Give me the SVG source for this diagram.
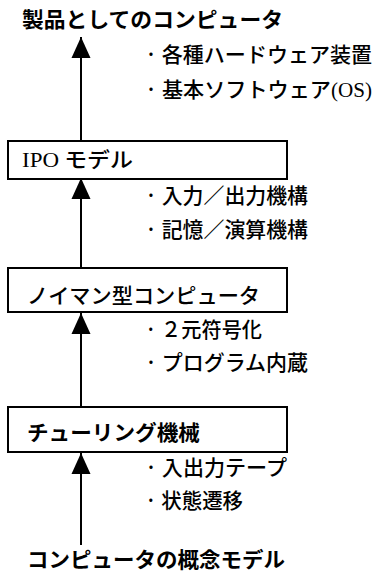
<svg xmlns="http://www.w3.org/2000/svg" width="376" height="579" viewBox="0 0 376 579">
<style>
.t{font-family:"Noto Sans CJK JP","Noto Sans",sans-serif;fill:#000;font-size:21px}
.b{font-weight:bold}
.m{font-weight:500}
.s{font-family:"Liberation Serif","Noto Sans CJK JP",serif}
.box{fill:#fff;stroke:#000;stroke-width:2}
.ln{stroke:#000;stroke-width:2;fill:none}
</style>
<defs>
<marker id="ah" markerUnits="userSpaceOnUse" markerWidth="22" markerHeight="22" viewBox="0 0 22 22" refX="21" refY="11" orient="auto">
<polygon points="0,1.5 21,11 0,20.5" fill="#000"/>
</marker>
</defs>
<rect width="376" height="579" fill="#fff"/>
<g id="connectors">
<line class="ln" x1="81" y1="141" x2="81" y2="37" marker-end="url(#ah)"/>
<line class="ln" x1="81" y1="268" x2="81" y2="178" marker-end="url(#ah)"/>
<line class="ln" x1="81" y1="407" x2="81" y2="313" marker-end="url(#ah)"/>
<line class="ln" x1="81" y1="545" x2="81" y2="453" marker-end="url(#ah)"/>
</g>
<g id="top">
<text class="t b" x="22" y="27" textLength="261" lengthAdjust="spacingAndGlyphs">製品としてのコンピュータ</text>
</g>
<g id="notes1">
<text class="t m" x="145" y="62" textLength="227" lengthAdjust="spacingAndGlyphs">· 各種ハードウェア装置</text>
<text class="t m" x="145" y="97" textLength="227" lengthAdjust="spacingAndGlyphs">· 基本ソフトウェア<tspan class="s">(OS)</tspan></text>
</g>
<g id="ipo">
<rect class="box" x="8" y="141" width="279" height="38"/>
<text class="t m" x="22" y="167" textLength="111" lengthAdjust="spacingAndGlyphs"><tspan class="s">IPO</tspan> モデル</text>
</g>
<g id="notes2">
<text class="t m" x="145" y="203" textLength="163" lengthAdjust="spacingAndGlyphs">· 入力／出力機構</text>
<text class="t m" x="145" y="237" textLength="163" lengthAdjust="spacingAndGlyphs">· 記憶／演算機構</text>
</g>
<g id="neumann">
<rect class="box" x="8" y="268" width="279" height="44"/>
<text class="t m" x="27" y="303" textLength="233" lengthAdjust="spacingAndGlyphs">ノイマン型コンピュータ</text>
</g>
<g id="notes3">
<text class="t m" x="145" y="337" textLength="117" lengthAdjust="spacingAndGlyphs">· ２元符号化</text>
<text class="t m" x="145" y="370" textLength="163" lengthAdjust="spacingAndGlyphs">· プログラム内蔵</text>
</g>
<g id="turing">
<rect class="box" x="8" y="407" width="279" height="45"/>
<text class="t b" x="27" y="440" textLength="173" lengthAdjust="spacingAndGlyphs">チューリング機械</text>
</g>
<g id="notes4">
<text class="t m" x="145" y="475" textLength="142" lengthAdjust="spacingAndGlyphs">· 入出力テープ</text>
<text class="t m" x="145" y="508" textLength="98" lengthAdjust="spacingAndGlyphs">· 状態遷移</text>
</g>
<g id="bottom">
<text class="t b" x="27" y="567" textLength="258" lengthAdjust="spacingAndGlyphs">コンピュータの概念モデル</text>
</g>
</svg>
